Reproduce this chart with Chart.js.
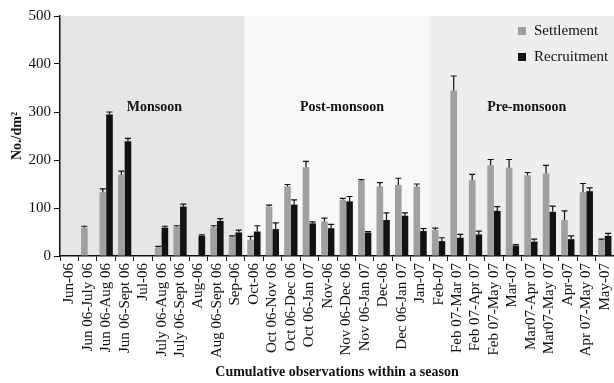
<!DOCTYPE html>
<html>
<head>
<meta charset="utf-8">
<script src="https://cdn.jsdelivr.net/npm/chart.js@4.4.1/dist/chart.umd.min.js"></script>
<style>
  body { margin: 0; background: #fff; }
  #wrap { width: 614px; height: 383px; }
</style>
</head>
<body>
<div id="wrap"><canvas id="barChart" width="614" height="383"></canvas></div>
<script>
const labels = [
    'Jun-06', 'Jun 06-July 06', 'Jun 06-Aug 06', 'Jun 06-Sept 06', 'Jul-06',
    'July 06-Aug 06', 'July 06-Sept 06', 'Aug-06', 'Aug 06-Sept 06', 'Sep-06',
    'Oct-06', 'Oct 06-Nov 06', 'Oct 06-Dec 06', 'Oct 06-Jan 07', 'Nov-06',
    'Nov 06-Dec 06', 'Nov 06-Jan 07', 'Dec-06', 'Dec 06-Jan 07', 'Jan-07',
    'Feb-07', 'Feb 07-Mar 07', 'Feb 07-Apr 07', 'Feb 07-May 07', 'Mar-07',
    'Mar07-Apr 07', 'Mar07-May 07', 'Apr-07', 'Apr 07-May 07', 'May-07'
];

const settlement = [0, 59, 133, 169, 0, 18, 61, 0, 60, 40,
    34, 103, 145, 185, 72, 117, 157, 145, 148, 145,
    54, 345, 158, 189, 184, 168, 172, 75, 133, 33];
const settlementErr = [0, 3, 7, 8, 0, 2, 2, 0, 3, 2,
    7, 3, 4, 12, 7, 3, 2, 8, 14, 5,
    4, 30, 12, 12, 17, 6, 17, 19, 18, 2];

const recruitment = [0, 0, 295, 239, 0, 59, 103, 42, 73, 49,
    51, 56, 107, 68, 58, 114, 49, 75, 84, 52,
    31, 38, 45, 94, 22, 30, 92, 35, 135, 42];
const recruitmentErr = [0, 0, 5, 6, 0, 3, 5, 2, 5, 5,
    12, 13, 10, 3, 8, 10, 2, 15, 6, 5,
    7, 7, 7, 9, 2, 5, 12, 7, 7, 5];

const seasons = ['Monsoon', 'Post-monsoon', 'Pre-monsoon'];
const seasonFirst = [0, 10, 20];
const seasonLast = [9, 19, 29];
const seasonColors = ['#e6e6e6', '#f8f8f8', '#eeeeee'];
const seasonLabelValue = 310;

Chart.defaults.font.family = "'Liberation Serif', 'Times New Roman', serif";
Chart.defaults.color = '#111';

// shaded season bands + their names
const seasonPlugin = {
    id: 'seasons',
    beforeDraw(chart) {
        const { ctx, chartArea, scales: { x } } = chart;
        const half = (x.getPixelForValue(1) - x.getPixelForValue(0)) / 2;
        ctx.save();
        seasons.forEach((s, i) => {
            const left = x.getPixelForValue(seasonFirst[i]) - half;
            const right = x.getPixelForValue(seasonLast[i]) + half;
            ctx.fillStyle = seasonColors[i];
            ctx.fillRect(left, chartArea.top, right - left, chartArea.bottom - chartArea.top);
        });
        ctx.restore();
    },
    afterDatasetsDraw(chart) {
        const { ctx, scales: { x, y } } = chart;
        ctx.save();
        ctx.font = "bold 14px 'Liberation Serif', serif";
        ctx.fillStyle = '#111';
        ctx.textAlign = 'center';
        ctx.textBaseline = 'middle';
        seasons.forEach((s, i) => {
            const cx = (x.getPixelForValue(seasonFirst[i]) + x.getPixelForValue(seasonLast[i])) / 2 + (i === 0 ? 2 : 5);
            ctx.fillText(s, cx, y.getPixelForValue(seasonLabelValue));
        });
        ctx.restore();
    }
};

// upward error bars with caps
const errorBarPlugin = {
    id: 'errorBars',
    afterDatasetsDraw(chart) {
        const { ctx, scales: { y } } = chart;
        ctx.save();
        ctx.strokeStyle = '#111';
        ctx.lineWidth = 1.2;
        chart.data.datasets.forEach((ds, di) => {
            const meta = chart.getDatasetMeta(di);
            meta.data.forEach((bar, i) => {
                const v = ds.data[i];
                const e = ds.errors[i];
                if (!v || !e) return;
                const top = y.getPixelForValue(v + e);
                ctx.beginPath();
                ctx.moveTo(bar.x, bar.y);
                ctx.lineTo(bar.x, top);
                ctx.moveTo(bar.x - 3, top);
                ctx.lineTo(bar.x + 3, top);
                ctx.stroke();
            });
        });
        ctx.restore();
    }
};

// small legend in the top right corner
const legendPlugin = {
    id: 'cornerLegend',
    afterDraw(chart) {
        const { ctx, chartArea } = chart;
        ctx.save();
        ctx.font = "15px 'Liberation Serif', serif";
        ctx.textBaseline = 'middle';
        chart.data.datasets.forEach((ds, i) => {
            const yy = chartArea.top + 15 + i * 26;
            ctx.fillStyle = ds.backgroundColor;
            ctx.fillRect(chartArea.right - 96, yy - 4, 8, 8);
            ctx.fillStyle = '#111';
            ctx.fillText(ds.label, chartArea.right - 80, yy);
        });
        ctx.restore();
    }
};

new Chart(document.getElementById('barChart'), {
    type: 'bar',
    data: {
        labels: labels,
        datasets: [
            {
                label: 'Settlement',
                data: settlement,
                errors: settlementErr,
                backgroundColor: '#a0a0a0',
                categoryPercentage: 0.72,
                barPercentage: 1.0
            },
            {
                label: 'Recruitment',
                data: recruitment,
                errors: recruitmentErr,
                backgroundColor: '#121212',
                categoryPercentage: 0.72,
                barPercentage: 1.0
            }
        ]
    },
    options: {
        responsive: false,
        animation: false,
        devicePixelRatio: 1,
        layout: { padding: { top: 16, right: 0, left: 0, bottom: 0 } },
        plugins: {
            legend: { display: false },
            tooltip: { enabled: false }
        },
        scales: {
            x: {
                grid: {
                    display: true,
                    drawOnChartArea: false,
                    color: '#111',
                    tickLength: 5,
                    offset: true
                },
                border: { color: '#111', width: 1.5 },
                ticks: {
                    autoSkip: false,
                    maxRotation: 90,
                    minRotation: 90,
                    padding: 2,
                    color: '#111',
                    font: { size: 15 }
                },
                title: {
                    display: true,
                    text: 'Cumulative observations within a season',
                    font: { size: 14, weight: 'bold' },
                    color: '#111',
                    padding: { top: 0, bottom: 2 }
                },
                afterFit(scale) {
                    scale.height = 127;
                    scale.paddingLeft = 0;
                    scale.paddingRight = 0;
                }
            },
            y: {
                min: 0,
                max: 500,
                grid: {
                    display: true,
                    drawOnChartArea: false,
                    color: '#111',
                    tickLength: 6
                },
                border: { color: '#111', width: 1.5 },
                ticks: {
                    stepSize: 100,
                    padding: 3,
                    color: '#111',
                    font: { size: 15 }
                },
                title: {
                    display: true,
                    text: 'No./dm²',
                    font: { size: 14, weight: 'bold' },
                    color: '#111',
                    padding: { top: 9, bottom: 0 }
                },
                afterFit(scale) {
                    scale.width = 60;
                    scale.paddingTop = 0;
                    scale.paddingBottom = 0;
                }
            }
        }
    },
    plugins: [seasonPlugin, errorBarPlugin, legendPlugin]
});
</script>
</body>
</html>
